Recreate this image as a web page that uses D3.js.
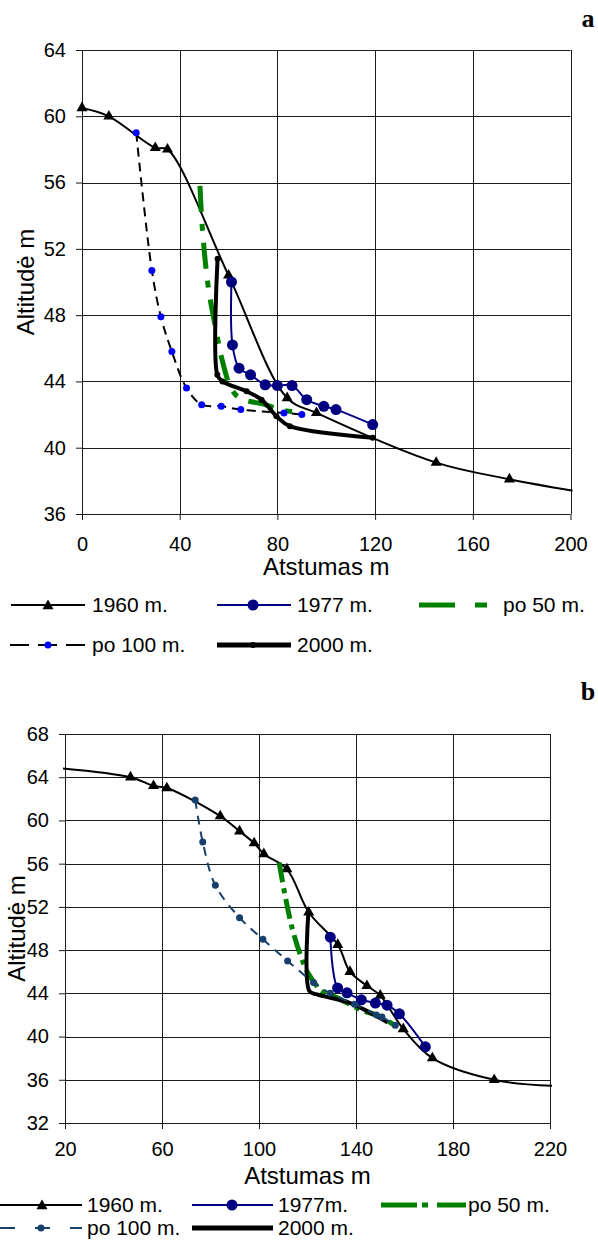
<!DOCTYPE html>
<html><head><meta charset="utf-8">
<script src="https://cdn.jsdelivr.net/npm/d3@7"></script>
<style>body{margin:0;background:#fff}svg{display:block}text{font-family:"Liberation Sans",Arial,sans-serif;fill:#000}</style>
</head><body><svg id="c" width="598" height="1241"></svg>
<script>
// ---------- DATA ----------
const seriesNamesA = ["1960 m.", "1977 m.", "po 50 m.", "po 100 m.", "2000 m."];
const seriesNamesB = ["1960 m.", "1977m.", "po 50 m.", "po 100 m.", "2000 m."];
const xTicksA = [0, 40, 80, 120, 160, 200];
const yTicksA = [36, 40, 44, 48, 52, 56, 60, 64];
const xTicksB = [20, 60, 100, 140, 180, 220];
const yTicksB = [32, 36, 40, 44, 48, 52, 56, 60, 64, 68];
const xTitle = "Atstumas m";
const yTitle = "Altitudė m";

// chart a  [distance, altitude]
const a1960 = [[0,60.5],[11,60],[30,58.1],[35,58],[60,50.4],[84,43],[96,42.1],[145,39.1],[175,38.1],[201,37.4]];
const a1977 = [[61.2,50.0],[61.6,46.2],[64.3,44.8],[69,44.4],[75,43.8],[80,43.75],[86,43.75],[92,42.9],[99,42.5],[104,42.3],[119,41.4]];
const a50   = [[48.3,55.8],[49.3,53.2],[51.7,49.7],[55,47],[57.2,45.4],[61,43.6],[64.5,43],[75,42.6],[81,42.3],[90,42.1]];
const a100  = [[22.2,59],[28.6,50.7],[32.3,47.9],[36.8,45.8],[42.8,43.6],[49,42.6],[57,42.5],[65,42.3],[82.7,42.1],[90,42]];
const a2000 = [[55.5,51.4],[55.4,44.4],[57.5,44],[67.4,43.4],[73.5,42.9],[79.6,41.9],[85.1,41.3],[119,40.6]];

// chart b
const b1960 = [[15,64.9],[47,64],[56.5,63.2],[62,63],[84,60.4],[92,59],[98,57.9],[102,56.9],[111.5,55.5],[120.5,51.5],[132.5,48.5],[137.5,46],[144.5,44.7],[150,43.8],[159.5,40.7],[171.5,38],[197,36],[225,35.4]];
const b1977 = [[129.4,49.2],[132.4,44.5],[136.3,44.05],[142.2,43.4],[148,43.1],[152.8,42.9],[157.9,42.1],[168.6,39.05]];
const b50   = [[108.3,56.1],[110.8,53],[113.6,50.1],[117,47.6],[120.4,45.8],[126,44.2],[132.2,43.6],[141.8,42.5],[149.3,41.9],[155.5,41.1]];
const b100  = [[73.7,61.9],[76.8,58],[82,54],[92,51],[101.6,49],[111.8,47],[122.5,45],[129.4,44],[139.4,43],[148.4,42],[150.7,41.8],[156.2,41.05]];
const b2000 = [[120.4,51.6],[120.8,44.2],[123.9,43.9],[137.6,43.1],[145.9,42.2],[153.1,41.3]];

// ---------- DRAW ----------
const svg = d3.select("#c");
const FONT = '"Liberation Sans",Arial,sans-serif';

function drawMarker(g, type, cx, cy, r, fill) {
  if (type === "tri") {
    g.append("path").attr("d", d3.symbol(d3.symbolTriangle, r * r * 1.75)())
      .attr("transform", `translate(${cx},${cy})`).attr("fill", fill);
  } else if (type === "circle") {
    g.append("circle").attr("cx", cx).attr("cy", cy).attr("r", r).attr("fill", fill);
  }
}

function drawChart(o) {
  const g = svg.append("g");
  const x = d3.scaleLinear(o.xd, o.xr), y = d3.scaleLinear(o.yd, o.yr);
  const [L, R] = o.xr, [B, T] = o.yr;
  const id = "clip" + o.id;
  svg.append("defs").append("clipPath").attr("id", id).append("rect")
    .attr("x", L - 2).attr("y", T - 2).attr("width", R - L + 4).attr("height", B - T + 4);

  // grid
  const grid = g.append("g").attr("stroke", "#1a1a1a").attr("stroke-width", 1);
  grid.selectAll(".v").data(o.xt).join("line")
    .attr("x1", d => Math.round(x(d)) + 0.5).attr("x2", d => Math.round(x(d)) + 0.5)
    .attr("y1", T).attr("y2", B);
  grid.selectAll(".h").data(o.yt).join("line")
    .attr("y1", d => Math.round(y(d)) + 0.5).attr("y2", d => Math.round(y(d)) + 0.5)
    .attr("x1", L).attr("x2", R);

  // axes
  const ax = g.append("g").attr("transform", `translate(0,${Math.round(B)})`)
    .call(d3.axisBottom(x).tickValues(o.xt).tickSize(6).tickSizeOuter(0).tickPadding(o.xpad));
  const ay = g.append("g").attr("transform", `translate(${Math.round(L)},0)`)
    .call(d3.axisLeft(y).tickValues(o.yt).tickSize(6).tickSizeOuter(0).tickPadding(10));
  [ax, ay].forEach(a => {
    a.attr("font-family", FONT).attr("font-size", 20);
    a.select(".domain").remove();
    a.selectAll("line").attr("stroke", "#1a1a1a");
    a.selectAll("text").attr("fill", "#000");
  });

  // titles
  g.append("text").attr("x", (L + R) / 2).attr("y", o.xTitleY).attr("text-anchor", "middle")
    .attr("font-size", 24).text(xTitle);
  g.append("text").attr("transform", `translate(${o.yTitleX},${(T + B) / 2}) rotate(-90)`)
    .attr("text-anchor", "middle").attr("font-size", 24).text(yTitle);
  g.append("text").attr("x", 588).attr("y", o.tagY).attr("text-anchor", "middle")
    .attr("font-weight", "bold").attr("font-size", 26)
    .style("font-family", '"Liberation Serif","Times New Roman",serif').text(o.tag);

  // series
  const line = d3.line().x(d => x(d[0])).y(d => y(d[1])).curve(d3.curveCatmullRom.alpha(0.5));
  const sg = g.append("g");
  o.series.forEach(s => {
    sg.append("path").attr("d", line(s.data)).attr("fill", "none")
      .attr("stroke", s.color).attr("stroke-width", s.width)
      .attr("stroke-dasharray", s.dash || null).attr("stroke-linejoin", "round")
      .attr("clip-path", `url(#${id})`);
    if (s.marker) {
      const mg = sg.append("g");
      s.data.filter(d => d[0] >= o.xd[0] && d[0] <= o.xd[1])
        .forEach(d => drawMarker(mg, s.marker, x(d[0]), y(d[1]), s.mr, s.mfill));
    }
  });

  // legend
  const lg = g.append("g");
  o.legend.forEach(it => {
    const s = o.series[it.si];
    const yy = it.y;
    lg.append("line").attr("x1", it.x1).attr("x2", it.x2).attr("y1", yy).attr("y2", yy)
      .attr("stroke", s.color).attr("stroke-width", it.lw || s.width)
      .attr("stroke-dasharray", it.dash || null);
    if (s.marker && it.mx != null) drawMarker(lg, s.marker, it.mx, yy + (s.marker === "tri" ? 1 : 0), it.mr || s.mr, s.mfill);
    lg.append("text").attr("x", it.tx).attr("y", yy + 7).attr("font-size", 21).text(it.label);
  });
}

drawChart({
  id: "a", tag: "a", tagY: 27,
  xd: [0, 200], xr: [82, 570.5], yd: [36, 64], yr: [514, 50],
  xt: xTicksA, yt: yTicksA, xpad: 17, xTitleY: 575, yTitleX: 34,
  series: [
    {data: a1960, color: "#000", width: 2, marker: "tri", mr: 5.5, mfill: "#000"},
    {data: a1977, color: "#000080", width: 2, marker: "circle", mr: 5.5, mfill: "#000080"},
    {data: a50, color: "#008000", width: 5, dash: "26,12,7,12"},
    {data: a2000, color: "#000", width: 4, marker: "circle", mr: 3, mfill: "#000"},
    {data: a100, color: "#000", width: 2, dash: "9,6", marker: "circle", mr: 3.5, mfill: "#0000FF"}
  ],
  legend: [
    {si: 0, y: 605, x1: 11, x2: 85, mx: 48, tx: 92, label: seriesNamesA[0]},
    {si: 1, y: 605, x1: 217, x2: 291, mx: 253, tx: 297, label: seriesNamesA[1]},
    {si: 2, y: 605, x1: 419, x2: 487, tx: 503, dash: "36,20,12", label: seriesNamesA[2]},
    {si: 4, y: 645, x1: 10, x2: 85, mx: 48, tx: 92, dash: "19,9", label: seriesNamesA[3]},
    {si: 3, y: 645, x1: 217, x2: 291, mx: 253, tx: 297, lw: 5, label: seriesNamesA[4]}
  ]
});

drawChart({
  id: "b", tag: "b", tagY: 700,
  xd: [20, 220], xr: [65, 550], yd: [32, 68], yr: [1123, 734],
  xt: xTicksB, yt: yTicksB, xpad: 13, xTitleY: 1184, yTitleX: 25,
  series: [
    {data: b1960, color: "#000", width: 2, marker: "tri", mr: 5.5, mfill: "#000"},
    {data: b1977, color: "#000080", width: 2, marker: "circle", mr: 5.5, mfill: "#000080"},
    {data: b50, color: "#008000", width: 5, dash: "20,6,5,6"},
    {data: b2000, color: "#000", width: 4},
    {data: b100, color: "#17406D", width: 2, dash: "9,7", marker: "circle", mr: 3.5, mfill: "#17406D"}
  ],
  legend: [
    {si: 0, y: 1205, x1: 0, x2: 82, mx: 42, tx: 87, label: seriesNamesB[0]},
    {si: 1, y: 1205, x1: 192, x2: 273, mx: 232, tx: 278, label: seriesNamesB[1]},
    {si: 2, y: 1205, x1: 381, x2: 466, tx: 468, dash: "36,5,6,9", label: seriesNamesB[2]},
    {si: 4, y: 1228, x1: 0, x2: 82, mx: 41, tx: 87, dash: "15,20", label: seriesNamesB[3]},
    {si: 3, y: 1228, x1: 192, x2: 273, tx: 278, lw: 5, label: seriesNamesB[4]}
  ]
});
</script>
</body></html>
